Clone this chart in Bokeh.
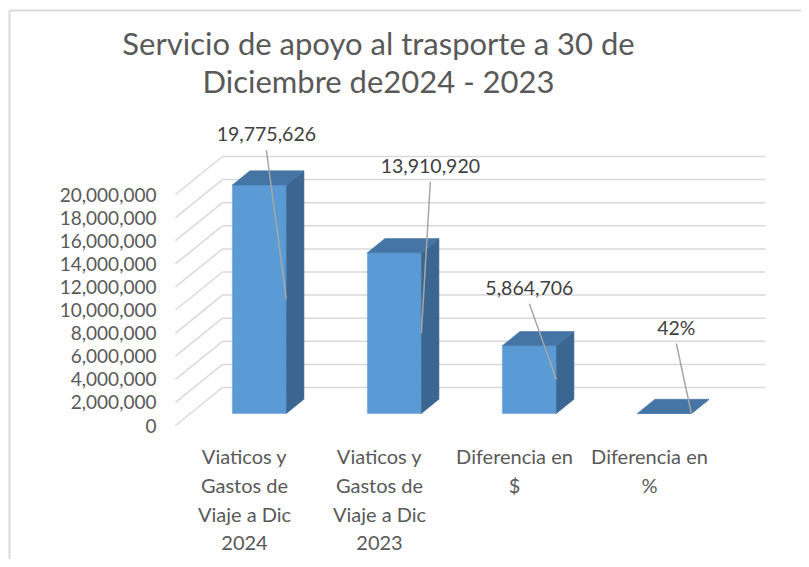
from bokeh.plotting import figure
from bokeh.models import Range1d
from bokeh.core.properties import value
from bokeh.embed import file_html
from bokeh.resources import INLINE

# ---------------- data ----------------
categories = [
    ["Viaticos y", "Gastos de", "Viaje a Dic", "2024"],
    ["Viaticos y", "Gastos de", "Viaje a Dic", "2023"],
    ["Diferencia en", "$"],
    ["Diferencia en", "%"],
]
values = [19775626, 13910920, 5864706, 0.42]
label_texts = ["19,775,626", "13,910,920", "5,864,706", "42%"]
y_ticks = [0, 2000000, 4000000, 6000000, 8000000, 10000000,
           12000000, 14000000, 16000000, 18000000, 20000000]
y_tick_labels = ["{:,}".format(t) for t in y_ticks]
title_lines = ["Servicio de apoyo al trasporte a 30 de", "Diciembre de2024 - 2023"]

# ---------------- layout / style ----------------
W, H = 801, 559
PX_PER_VAL = 11.55e-6          # pixels per unit of value
FLOOR_CY = 425                 # pixel y of value 0 at the front plane
DEPTH_DX, DEPTH_DPX = 47, 38   # depth vector (pixels right, pixels up)
DEPTH_DV = DEPTH_DPX / PX_PER_VAL
WALL_X0 = 175                  # front-left x of the floor
WALL_X1 = 765                  # right end of back wall
CAT_X0, CAT_STEP = 244, 135
BAR_W = 54
F0, F1 = 0.316, 0.69           # bar depth (fractions of floor depth)

FONT = value("Lato")
GRID = "#D9D9D9"
TXT = "#595959"
FRONT, SIDE, TOP = "#5B9BD5", "#3B6691", "#4575A4"


def vy(py):
    """pixel y (from top) -> value units"""
    return (FLOOR_CY - py) / PX_PER_VAL


def dpx(n):
    """pixel distance -> value units"""
    return n / PX_PER_VAL


p = figure(width=W, height=H, output_backend="svg", toolbar_location=None,
           x_range=Range1d(0, W), y_range=Range1d(vy(H), vy(0)),
           min_border=0, background_fill_color="white", border_fill_color="white")
p.axis.visible = False
p.grid.visible = False
p.outline_line_color = None

# chart area border (left and top visible)
p.line([9, 9], [vy(10), vy(H)], line_color="#D9D9D9", line_width=2)
p.line([9, W], [vy(10), vy(10)], line_color="#D9D9D9", line_width=2)

# ---------------- walls / gridlines ----------------
n = len(y_ticks)
gx0 = [WALL_X0] * n
gx1 = [WALL_X0 + DEPTH_DX] * n
gy1 = [t + DEPTH_DV for t in y_ticks]
p.segment(x0=gx0, y0=y_ticks, x1=gx1, y1=gy1, line_color=GRID, line_width=1.5)
p.segment(x0=gx1, y0=gy1, x1=[WALL_X1] * n, y1=gy1, line_color=GRID, line_width=1.5)

# y tick labels on the front plane
p.text(x=[WALL_X0 - 19] * n, y=y_ticks, text=y_tick_labels,
       text_font=FONT, text_font_size="19px", text_color=TXT,
       text_align="right", text_baseline="middle")

# ---------------- 3D bars ----------------
front_xs, front_ys, side_xs, side_ys, top_xs, top_ys = [], [], [], [], [], []
lead_x0, lead_y0, lead_x1, lead_y1 = [], [], [], []
lab_x, lab_y = [], []
label_offsets = [(7, 51), (36, 87), (0, 58), (12, 86)]  # px right / up from front-top centre
ddx = (F1 - F0) * DEPTH_DX
ddv = (F1 - F0) * DEPTH_DV
for i, v in enumerate(values):
    c = CAT_X0 + CAT_STEP * i + F0 * DEPTH_DX
    L, R = c - BAR_W / 2, c + BAR_W / 2
    b = F0 * DEPTH_DV
    t = v + b
    front_xs.append([L, R, R, L]); front_ys.append([b, b, t, t])
    side_xs.append([R, R + ddx, R + ddx, R]); side_ys.append([b, b + ddv, t + ddv, t])
    top_xs.append([L, R, R + ddx, L + ddx]); top_ys.append([t, t, t + ddv, t + ddv])
    ox, oy = label_offsets[i]
    lx, ly = c + ox, t + dpx(oy)
    lab_x.append(lx); lab_y.append(ly)
    lead_x0.append(lx); lead_y0.append(ly - dpx(16))
    lead_x1.append(R); lead_y1.append((b + t) / 2)

p.patches(front_xs, front_ys, fill_color=FRONT, line_color="#6FA6DA", line_width=0.6)
p.patches(side_xs, side_ys, fill_color=SIDE, line_color=SIDE, line_width=0.6)
p.patches(top_xs, top_ys, fill_color=TOP, line_color=TOP, line_width=0.6)

# leader lines and data labels
p.segment(x0=lead_x0, y0=lead_y0, x1=lead_x1, y1=lead_y1, line_color="#A6A6A6", line_width=1.5)
p.text(x=lab_x, y=lab_y, text=label_texts, text_font=FONT, text_font_size="19.5px",
       text_color="#404040", text_align="center", text_baseline="middle")

# ---------------- category labels ----------------
cx, cy, ct = [], [], []
for i, lines in enumerate(categories):
    for k, s in enumerate(lines):
        cx.append(CAT_X0 + CAT_STEP * i)
        cy.append(vy(455 + 29.3 * k))
        ct.append(s)
p.text(x=cx, y=cy, text=ct, text_font=FONT, text_font_size="20px", text_color=TXT,
       text_align="center", text_baseline="middle")

# ---------------- title ----------------
p.text(x=[378, 378], y=[vy(42), vy(80)], text=title_lines, text_font=FONT,
       text_font_size="31px", text_color=TXT, text_align="center", text_baseline="middle")

open("out.html", "w").write(file_html(p, INLINE))
